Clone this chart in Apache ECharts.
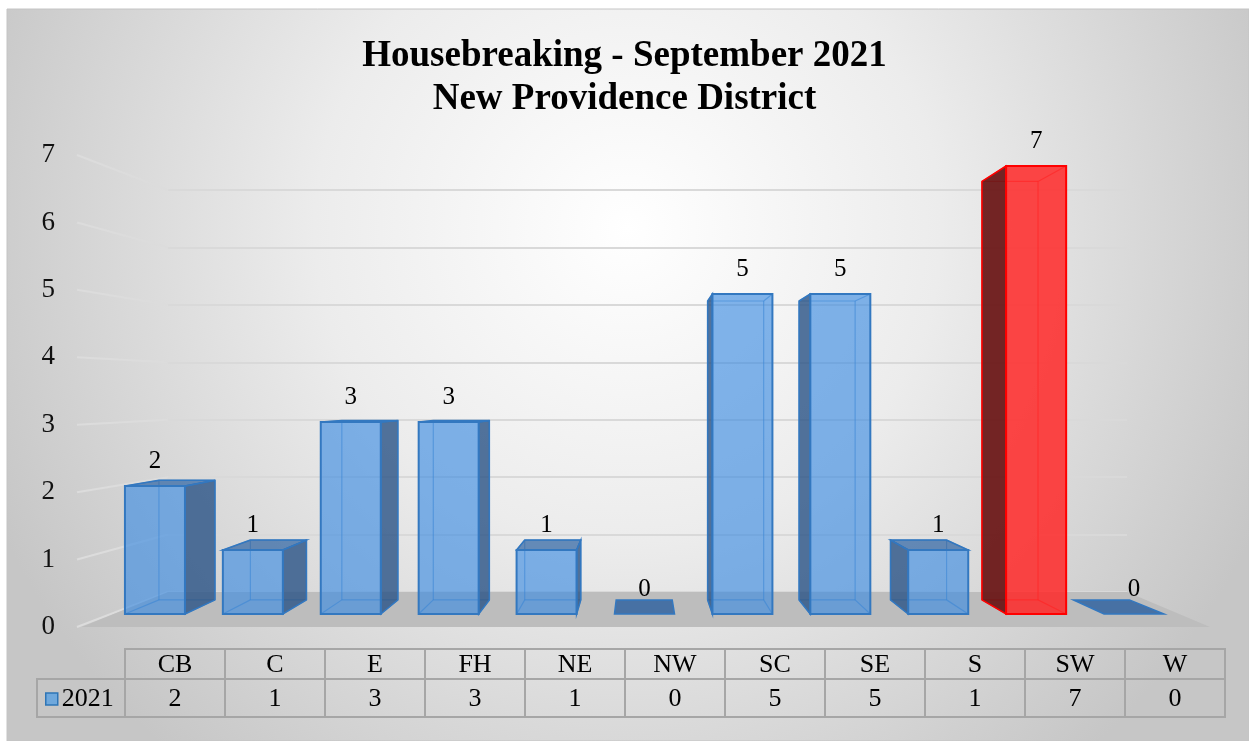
<!DOCTYPE html>
<html>
<head>
<meta charset="utf-8">
<script src="https://cdn.jsdelivr.net/npm/echarts@6/dist/echarts.min.js"></script>
<style>
html,body{margin:0;padding:0;background:#fff;}
#main{width:1249px;height:741px;}
</style>
</head>
<body>
<div id="main"></div>
<script>
// ---- data ----
const categories = ['CB','C','E','FH','NE','NW','SC','SE','S','SW','W'];
const values2021 = [2,1,3,3,1,0,5,5,1,7,0];
const seriesName = '2021';
const highlightCategory = 'SW';
const yTickValues = [0,1,2,3,4,5,6,7];
const titleLines = ['Housebreaking - September 2021','New Providence District'];

// ---- style constants ----
const FONT = "'Liberation Serif','Times New Roman',serif";
const VP = [640, 400];      // perspective vanishing point (px)
const DEPTH = 0.066;        // bar depth factor
const BAR_RATIO = 0.613;

const chart = echarts.init(document.getElementById('main'), null, {renderer:'canvas'});

function renderBar(params, api){
  const i = api.value(0), v = api.value(1);
  const t = api.coord([i, v]);
  const b = api.coord([i, 0]);
  const w = api.size([1, 0])[0] * BAR_RATIO;
  const xl = t[0] - w/2, xr = t[0] + w/2, yt = t[1], yb = b[1];
  const back = (p) => [p[0] + DEPTH*(VP[0]-p[0]), p[1] + DEPTH*(VP[1]-p[1])];
  const FTL=[xl,yt], FTR=[xr,yt], FBR=[xr,yb], FBL=[xl,yb];
  const BTL=back(FTL), BTR=back(FTR), BBR=back(FBR), BBL=back(FBL);
  const hl = categories[params.dataIndex] === highlightCategory;
  const c = hl ? {
    front:'rgba(255,40,40,0.85)', side:'rgba(105,20,20,0.92)', top:'rgba(200,30,30,0.85)',
    stroke:'#ff0000', inner:'rgba(255,0,0,0.6)', flat:'rgba(200,30,30,0.85)'
  } : {
    front:'rgba(60,140,225,0.64)', side:'rgba(45,85,135,0.82)', top:'rgba(55,105,165,0.75)',
    stroke:'#3378c0', inner:'rgba(46,117,190,0.55)', flat:'rgba(50,100,160,0.85)'
  };
  const children = [];
  const line = (p,q,col,lw) => ({type:'line', shape:{x1:p[0],y1:p[1],x2:q[0],y2:q[1]}, style:{stroke:col, lineWidth:lw}});
  if (v === 0) {
    children.push({type:'polygon', shape:{points:[FBL,FBR,BBR,BBL]}, style:{fill:c.flat, stroke:c.stroke, lineWidth:1.5}});
  } else {
    [[BTL,BTR],[BTR,BBR],[BBR,BBL],[BBL,BTL],[FTL,BTL],[FBL,BBL],[FBR,BBR],[FTR,BTR]].forEach(e=>{
      children.push(line(e[0], e[1], c.inner, 1.2));
    });
    const rightSide = t[0] < VP[0];
    const side = rightSide ? [FTR,BTR,BBR,FBR] : [FTL,BTL,BBL,FBL];
    children.push({type:'polygon', shape:{points:side}, style:{fill:c.side, stroke:c.stroke, lineWidth:1.5}});
    if (yt > VP[1]) {
      children.push({type:'polygon', shape:{points:[FTL,FTR,BTR,BTL]}, style:{fill:c.top, stroke:c.stroke, lineWidth:1.5}});
    }
    children.push({type:'rect', shape:{x:xl, y:yt, width:w, height:yb-yt}, style:{fill:c.front, stroke:c.stroke, lineWidth:2}});
  }
  children.push({type:'text', style:{text:String(v), x:t[0], y:yt-25, align:'center', verticalAlign:'middle',
    fontSize:25, fontFamily:FONT, fill:'#000'}});
  return {type:'group', children};
}

function renderTable(params, api){
  const i = api.value(0);
  const cs = params.coordSys;
  const c = api.coord([i, 0]);
  const w = api.size([1, 0])[0];
  const x0 = c[0] - w/2;
  const hH = 30;
  const stroke = '#a6a6a6';
  return {type:'group', children:[
    {type:'rect', shape:{x:x0, y:cs.y, width:w, height:hH}, style:{fill:'none', stroke, lineWidth:2}},
    {type:'rect', shape:{x:x0, y:cs.y+hH, width:w, height:cs.height-hH}, style:{fill:'none', stroke, lineWidth:2}},
    {type:'text', style:{text:categories[params.dataIndex], x:c[0], y:cs.y+hH/2+1, align:'center', verticalAlign:'middle', fontSize:26, fontFamily:FONT, fill:'#000'}},
    {type:'text', style:{text:String(api.value(1)), x:c[0], y:cs.y+hH+(cs.height-hH)/2+1, align:'center', verticalAlign:'middle', fontSize:26, fontFamily:FONT, fill:'#000'}}
  ]};
}

const hiddenValX = (gi) => ({type:'value', gridIndex:gi, min:0, max:1, show:false});
const option = {
  animation:false,
  title:{
    text: titleLines.join('\n'), left:'center', top:30,
    textStyle:{fontFamily:FONT, fontSize:37, fontWeight:'bold', color:'#000', lineHeight:43}
  },
  legend:{
    data:[{name:seriesName, icon:'rect', itemStyle:{color:'#6fa8dc', borderColor:'#2e75b6', borderWidth:1.5}}],
    left:45, top:686, padding:0, itemWidth:12, itemHeight:12, itemGap:5,
    textStyle:{fontFamily:FONT, fontSize:26, color:'#000', padding:[0,0,0,-1]}
  },
  grid:[
    {left:77, right:39, top:155, bottom:114},
    {left:168, right:122, top:190, bottom:149},
    {left:106, right:66, top:166, bottom:127},
    {left:125, right:24, top:649, bottom:24}
  ],
  xAxis:[
    hiddenValX(0), hiddenValX(1),
    {type:'category', gridIndex:2, data:categories, show:false, boundaryGap:true},
    {type:'category', gridIndex:3, data:categories, show:false, boundaryGap:true}
  ],
  yAxis:[
    {type:'value', gridIndex:0, min:0, max:7, interval:1, axisLine:{show:false}, axisTick:{show:false}, splitLine:{show:false},
     axisLabel:{fontFamily:FONT, fontSize:27, color:'#111', margin:22}},
    {type:'value', gridIndex:1, min:0, max:7, interval:1, axisLine:{show:false}, axisTick:{show:false}, axisLabel:{show:false},
     splitLine:{show:true, lineStyle:{color:'#d9d9d9', width:2}}},
    {type:'value', gridIndex:2, min:0, max:7, interval:1, show:false},
    {type:'value', gridIndex:3, min:0, max:1, show:false}
  ],
  series:[
    {name:seriesName, type:'custom', xAxisIndex:2, yAxisIndex:2, z:3,
     itemStyle:{color:'#6fa8dc'},
     data: values2021.map((v,i)=>[i,v]), renderItem: renderBar, encode:{x:0, y:1}},
    {name:'table', type:'custom', xAxisIndex:3, yAxisIndex:3, z:3,
     data: values2021.map((v,i)=>[i,v]), renderItem: renderTable, encode:{x:0}}
  ]
};
chart.setOption(option);

const px = (gi, p) => chart.convertToPixel({xAxisIndex:gi, yAxisIndex:gi}, p);
const g = [];
g.push({type:'rect', z:-10, shape:{x:7, y:9, width:1249-7, height:741-9},
  style:{fill:new echarts.graphic.RadialGradient(0.5, 0.3, 0.95, [
    {offset:0, color:'#ffffff'}, {offset:0.45, color:'#ececec'}, {offset:1, color:'#c6c6c6'}]),
    stroke:'#c4c4c4', lineWidth:1}});
yTickValues.forEach(v=>{
  const f = px(0, [0, v]), b = px(1, [0, v]);
  g.push({type:'line', z:0, shape:{x1:f[0], y1:f[1], x2:b[0], y2:b[1]}, style:{stroke:'#dcdcdc', lineWidth:2}});
});
const fl = px(0,[0.004,0]), fr = px(0,[1,0]), br = px(1,[1,0]), bl = px(1,[0,0]);
g.push({type:'polygon', z:1, shape:{points:[fl,fr,br,bl]}, style:{fill:'#bdbdbd'}});
const tl = px(3, [0, 0]);
const tTop = chart.convertToPixel({yAxisIndex:3}, 1);
const tBot = chart.convertToPixel({yAxisIndex:3}, 0);
const cellW = 100;
const legLeft = 37;
g.push({type:'rect', z:2, shape:{x:legLeft, y:tTop+30, width:(tl[0]-cellW/2)-legLeft, height:tBot-tTop-30},
  style:{fill:'none', stroke:'#a6a6a6', lineWidth:2}});
chart.setOption({graphic:g});
</script>
</body>
</html>
